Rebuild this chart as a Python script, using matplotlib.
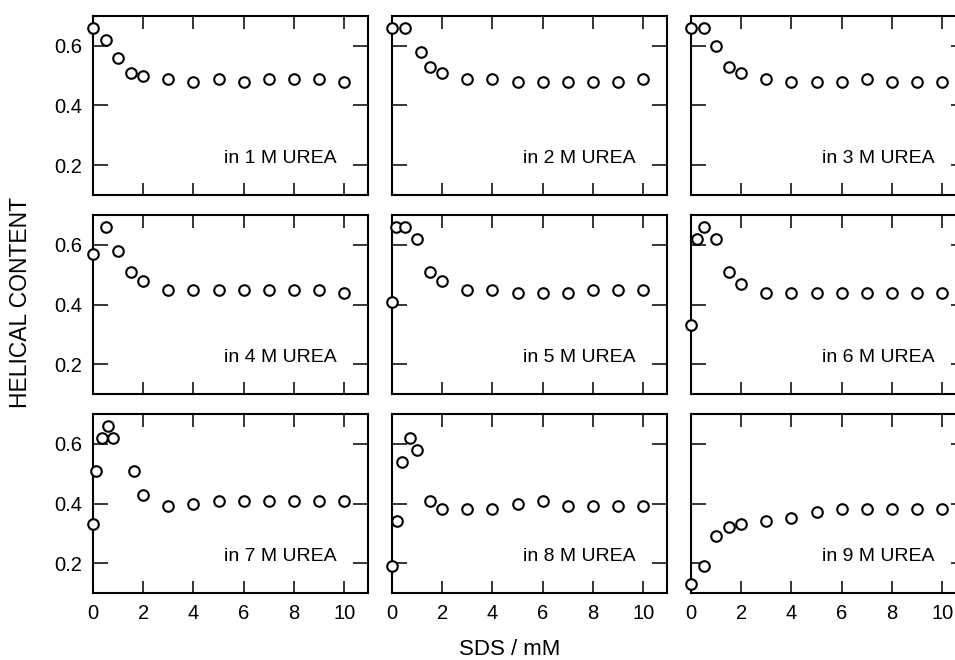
import matplotlib
matplotlib.use("Agg")
import matplotlib.pyplot as plt

plt.rcParams['font.family'] = ['Liberation Sans', 'DejaVu Sans']

# ---- data ----
urea_labels = ["in 1 M UREA", "in 2 M UREA", "in 3 M UREA",
               "in 4 M UREA", "in 5 M UREA", "in 6 M UREA",
               "in 7 M UREA", "in 8 M UREA", "in 9 M UREA"]

x1 = [0, 0.5, 1, 1.5, 2, 3, 4, 5, 6, 7, 8, 9, 10]
y1 = [0.66, 0.62, 0.56, 0.51, 0.50, 0.49, 0.48, 0.49, 0.48, 0.49, 0.49, 0.49, 0.48]
x2 = [0, 0.5, 1.15, 1.5, 2, 3, 4, 5, 6, 7, 8, 9, 10]
y2 = [0.66, 0.66, 0.58, 0.53, 0.51, 0.49, 0.49, 0.48, 0.48, 0.48, 0.48, 0.48, 0.49]
x3 = [0, 0.5, 1, 1.5, 2, 3, 4, 5, 6, 7, 8, 9, 10]
y3 = [0.66, 0.66, 0.60, 0.53, 0.51, 0.49, 0.48, 0.48, 0.48, 0.49, 0.48, 0.48, 0.48]
x4 = [0, 0.5, 1, 1.5, 2, 3, 4, 5, 6, 7, 8, 9, 10]
y4 = [0.57, 0.66, 0.58, 0.51, 0.48, 0.45, 0.45, 0.45, 0.45, 0.45, 0.45, 0.45, 0.44]
x5 = [0, 0.15, 0.5, 1, 1.5, 2, 3, 4, 5, 6, 7, 8, 9, 10]
y5 = [0.41, 0.66, 0.66, 0.62, 0.51, 0.48, 0.45, 0.45, 0.44, 0.44, 0.44, 0.45, 0.45, 0.45]
x6 = [0, 0.25, 0.5, 1, 1.5, 2, 3, 4, 5, 6, 7, 8, 9, 10]
y6 = [0.33, 0.62, 0.66, 0.62, 0.51, 0.47, 0.44, 0.44, 0.44, 0.44, 0.44, 0.44, 0.44, 0.44]
x7 = [0, 0.1, 0.35, 0.6, 0.8, 1.65, 2, 3, 4, 5, 6, 7, 8, 9, 10]
y7 = [0.33, 0.51, 0.62, 0.66, 0.62, 0.51, 0.43, 0.39, 0.40, 0.41, 0.41, 0.41, 0.41, 0.41, 0.41]
x8 = [0, 0.2, 0.4, 0.7, 1, 1.5, 2, 3, 4, 5, 6, 7, 8, 9, 10]
y8 = [0.19, 0.34, 0.54, 0.62, 0.58, 0.41, 0.38, 0.38, 0.38, 0.40, 0.41, 0.39, 0.39, 0.39, 0.39]
x9 = [0, 0.5, 1, 1.5, 2, 3, 4, 5, 6, 7, 8, 9, 10]
y9 = [0.13, 0.19, 0.29, 0.32, 0.33, 0.34, 0.35, 0.37, 0.38, 0.38, 0.38, 0.38, 0.38]

xs = [x1, x2, x3, x4, x5, x6, x7, x8, x9]
ys = [y1, y2, y3, y4, y5, y6, y7, y8, y9]

xticks = [0, 2, 4, 6, 8, 10]
yticks = [0.2, 0.4, 0.6]
ytick_labels = ["0.2", "0.4", "0.6"]

# ---- layout ----
W, H = 955, 660
fig = plt.figure(figsize=(W / 100, H / 100), dpi=100)
col_left = [93, 392, 691]
col_w = 275
row_top = [16, 215, 414]
row_h = 179

for i in range(9):
    r, c = divmod(i, 3)
    ax = fig.add_axes([col_left[c] / W, (H - row_top[r] - row_h) / H, col_w / W, row_h / H])
    ax.plot(xs[i], ys[i], 'o', mfc='white', mec='black', ms=7.6, mew=1.5,
            clip_on=False, zorder=5)
    ax.set_xlim(0, 10.95)
    ax.set_ylim(0.1, 0.7)
    ax.set_xticks(xticks)
    ax.set_yticks(yticks)
    ax.tick_params(axis='x', direction='in', length=9, width=1.1, top=True, bottom=True,
                   labelsize=14.5, pad=8, labelbottom=(r == 2))
    ax.tick_params(axis='y', direction='in', length=10.5, width=1.1, left=True, right=True,
                   labelsize=14.5, pad=8, labelleft=(c == 0))
    if c == 0:
        ax.set_yticklabels(ytick_labels)
    for s in ax.spines.values():
        s.set_linewidth(1.5)
    ax.text(0.885, 0.205, urea_labels[i], transform=ax.transAxes, ha='right', va='center',
            fontsize=14)

fig.text(21 / W, 1 - 303 / H, "HELICAL CONTENT", rotation=90, ha='center', va='center',
         fontsize=16.5)
fig.text(510 / W, 1 - 655 / H, "SDS / mM", ha='center', va='baseline', fontsize=16)

fig.savefig("out.png", dpi=100, facecolor='white')
